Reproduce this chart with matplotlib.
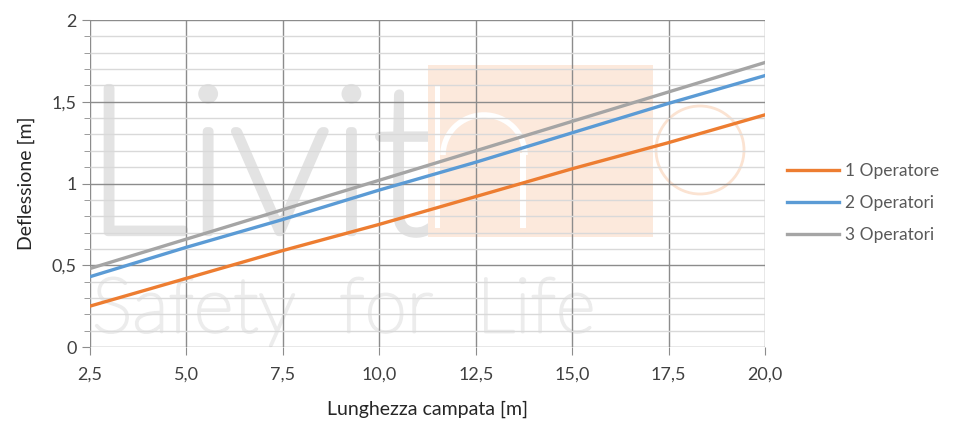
import matplotlib
matplotlib.use("Agg")
import matplotlib.pyplot as plt
import matplotlib.patches as mpatches
import matplotlib.patheffects as pe
from matplotlib.ticker import MultipleLocator, FuncFormatter

plt.rcParams["font.family"] = ["Lato", "DejaVu Sans"]

campata = [2.5, 5.0, 7.5, 10.0, 12.5, 15.0, 17.5, 20.0]
op1 = [0.25, 0.42, 0.59, 0.75, 0.92, 1.09, 1.25, 1.42]
op2 = [0.43, 0.61, 0.78, 0.96, 1.13, 1.31, 1.49, 1.66]
op3 = [0.48, 0.66, 0.84, 1.02, 1.20, 1.38, 1.56, 1.74]
labels = ["1 Operatore", "2 Operatori", "3 Operatori"]
colors = ["#ED7D31", "#5B9BD5", "#A5A5A5"]

W, H = 954, 423
fig = plt.figure(figsize=(W / 100, H / 100), dpi=100)
ax = fig.add_axes([90 / W, 1 - 347 / H, 675 / W, 327 / H])


def px(x, y):
    # pixel position -> figure fraction
    return x / W, 1 - y / H


# watermark (logo in background)
ft = fig.transFigure
ax.text(*px(84, 232), "Livit", fontsize=148, color="#e3e3e3", zorder=0.1,
        transform=ft, fontweight="light",
        path_effects=[pe.withStroke(linewidth=6, foreground="#e3e3e3")])
ax.add_patch(mpatches.Rectangle(px(428, 237), 225 / W, 172 / H, transform=ft,
                                color="#fce9dc", zorder=0.1, lw=0))
ax.add_patch(mpatches.Rectangle(px(435, 228), 5 / W, 143 / H, transform=ft,
                                color="white", zorder=0.15, lw=0))
ax.add_patch(mpatches.Rectangle(px(520, 228), 6 / W, 75 / H, transform=ft,
                                color="white", zorder=0.15, lw=0))
ax.add_patch(mpatches.Arc(px(484, 155), 82 / W, 80 / H, theta1=0, theta2=180,
                          transform=ft, color="white", lw=4, zorder=0.15))
ax.add_patch(mpatches.Ellipse(px(700, 150), 88 / W, 88 / H, transform=ft,
                              fill=False, edgecolor="#fbe3d2", lw=2, zorder=0.1))
ax.text(*px(92, 332), "Safety  for  Life", fontsize=55, color="#ececec",
        zorder=0.1, transform=ft, fontweight="light",
        path_effects=[pe.withStroke(linewidth=2, foreground="#ececec")])

for y, lab, c in zip([op1, op2, op3], labels, colors):
    ax.plot(campata, y, color=c, lw=2.4, label=lab, zorder=3)

ax.set_xlim(2.5, 20)
ax.set_ylim(0, 2)
ax.xaxis.set_major_locator(MultipleLocator(2.5))
ax.yaxis.set_major_locator(MultipleLocator(0.5))
ax.yaxis.set_minor_locator(MultipleLocator(0.1))
ax.xaxis.set_major_formatter(FuncFormatter(lambda v, p: f"{v:.1f}".replace(".", ",")))
ax.yaxis.set_major_formatter(FuncFormatter(lambda v, p: f"{v:g}".replace(".", ",")))

ax.grid(which="major", color="#8c8c8c", lw=1.0)
ax.grid(which="minor", axis="y", color="#d9d9d9", lw=1.0)
for s in ax.spines.values():
    s.set_visible(False)
ax.tick_params(axis="x", which="major", length=6, color="#8c8c8c", labelsize=13,
               pad=8, labelcolor="#404040")
ax.tick_params(axis="y", which="major", length=6, color="#8c8c8c", labelsize=13,
               labelcolor="#404040")
ax.tick_params(axis="y", which="minor", length=4, color="#8c8c8c")
ax.set_axisbelow(True)

ax.set_xlabel("Lunghezza campata [m]", fontsize=14, color="#262626", labelpad=13)
ax.set_ylabel("Deflessione [m]", fontsize=14, color="#262626", labelpad=12)

ax.legend(loc="center left", bbox_to_anchor=(1.01, 0.44), frameon=False,
          fontsize=12.5, labelcolor="#595959", handlelength=3.0,
          handletextpad=0.3, labelspacing=0.9)

fig.savefig("out.png", dpi=100)
